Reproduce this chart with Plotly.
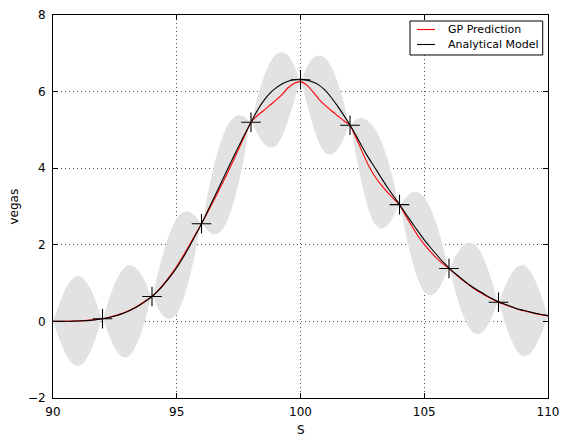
import plotly.graph_objects as go

# Grid of S values (step 0.25 from 90 to 110)
S = [90.00, 90.25, 90.50, 90.75, 91.00, 91.25, 91.50, 91.75,
     92.00, 92.25, 92.50, 92.75, 93.00, 93.25, 93.50, 93.75,
     94.00, 94.25, 94.50, 94.75, 95.00, 95.25, 95.50, 95.75,
     96.00, 96.25, 96.50, 96.75, 97.00, 97.25, 97.50, 97.75,
     98.00, 98.25, 98.50, 98.75, 99.00, 99.25, 99.50, 99.75,
     100.00, 100.25, 100.50, 100.75, 101.00, 101.25, 101.50, 101.75,
     102.00, 102.25, 102.50, 102.75, 103.00, 103.25, 103.50, 103.75,
     104.00, 104.25, 104.50, 104.75, 105.00, 105.25, 105.50, 105.75,
     106.00, 106.25, 106.50, 106.75, 107.00, 107.25, 107.50, 107.75,
     108.00, 108.25, 108.50, 108.75, 109.00, 109.25, 109.50, 109.75,
     110.00]

analytical = [0.000, 0.001, 0.002, 0.005, 0.010, 0.017, 0.028, 0.045,
              0.070, 0.100, 0.140, 0.190, 0.250, 0.330, 0.420, 0.530,
              0.650, 0.800, 0.980, 1.180, 1.400, 1.660, 1.940, 2.240,
              2.550, 2.880, 3.220, 3.560, 3.900, 4.240, 4.570, 4.890,
              5.200, 5.500, 5.750, 5.950, 6.090, 6.200, 6.270, 6.310,
              6.320, 6.300, 6.250, 6.170, 6.030, 5.840, 5.620, 5.380,
              5.130, 4.850, 4.550, 4.270, 4.020, 3.760, 3.510, 3.280,
              3.050, 2.810, 2.580, 2.350, 2.130, 1.930, 1.740, 1.560,
              1.400, 1.250, 1.120, 0.990, 0.880, 0.780, 0.680, 0.590,
              0.510, 0.450, 0.390, 0.330, 0.290, 0.250, 0.210, 0.180,
              0.150]

gp_mean = [0.000, 0.001, 0.003, 0.006, 0.012, 0.020, 0.032, 0.048,
           0.070, 0.102, 0.145, 0.198, 0.262, 0.342, 0.435, 0.545,
           0.650, 0.810, 1.000, 1.210, 1.440, 1.700, 1.980, 2.270,
           2.550, 2.850, 3.160, 3.480, 3.810, 4.150, 4.500, 4.860,
           5.200, 5.370, 5.500, 5.640, 5.770, 5.920, 6.100, 6.220,
           6.260, 6.170, 6.000, 5.800, 5.640, 5.500, 5.370, 5.240,
           5.120, 4.790, 4.420, 4.070, 3.790, 3.570, 3.380, 3.210,
           3.040, 2.760, 2.490, 2.230, 2.010, 1.820, 1.650, 1.510,
           1.380, 1.240, 1.100, 0.980, 0.860, 0.760, 0.665, 0.580,
           0.500, 0.440, 0.380, 0.325, 0.280, 0.240, 0.200, 0.170,
           0.145]

gp_std = [0.00, 0.45, 0.84, 1.09, 1.18, 1.09, 0.84, 0.45,
          0.00, 0.46, 0.85, 1.10, 1.20, 1.10, 0.85, 0.46,
          0.00, 0.48, 0.89, 1.15, 1.25, 1.15, 0.89, 0.48,
          0.00, 0.48, 0.89, 1.15, 1.25, 1.15, 0.89, 0.48,
          0.00, 0.46, 0.85, 1.10, 1.20, 1.10, 0.85, 0.46,
          0.00, 0.47, 0.88, 1.14, 1.24, 1.14, 0.88, 0.47,
          0.00, 0.48, 0.89, 1.15, 1.25, 1.15, 0.89, 0.48,
          0.00, 0.47, 0.88, 1.14, 1.24, 1.14, 0.88, 0.47,
          0.00, 0.45, 0.83, 1.08, 1.17, 1.08, 0.83, 0.45,
          0.00, 0.46, 0.84, 1.10, 1.19, 1.10, 0.84, 0.46,
          0.00]

train_S = [92, 94, 96, 98, 100, 102, 104, 106, 108]
train_vega = [0.07, 0.65, 2.55, 5.20, 6.31, 5.12, 3.05, 1.38, 0.50]

x_ticks = [90, 95, 100, 105, 110]
y_ticks = [-2, 0, 2, 4, 6, 8]
x_title = "S"
y_title = "vegas"
legend_labels = ["GP Prediction", "Analytical Model"]
legend_colors = ["red", "black"]

upper = [m + s for m, s in zip(gp_mean, gp_std)]
lower = [m - s for m, s in zip(gp_mean, gp_std)]

fig = go.Figure()
fig.add_trace(go.Scatter(x=S, y=upper, mode="lines",
                         line=dict(width=0, color="rgba(0,0,0,0)", shape="spline", smoothing=0.6),
                         showlegend=False, hoverinfo="skip"))
fig.add_trace(go.Scatter(x=S, y=lower, mode="lines",
                         line=dict(width=0, color="rgba(0,0,0,0)", shape="spline", smoothing=0.6),
                         fill="tonexty", fillcolor="rgb(226,226,226)",
                         showlegend=False, hoverinfo="skip"))
fig.add_trace(go.Scatter(x=S, y=gp_mean, mode="lines", name=legend_labels[0], showlegend=False,
                         line=dict(color="red", width=1.1, shape="spline", smoothing=0.6)))
fig.add_trace(go.Scatter(x=S, y=analytical, mode="lines", name=legend_labels[1], showlegend=False,
                         line=dict(color="black", width=1.1, shape="spline", smoothing=0.6)))
fig.add_trace(go.Scatter(x=train_S, y=train_vega, mode="markers", showlegend=False,
                         marker=dict(symbol="cross-thin", size=14,
                                     line=dict(color="black", width=1.1))))

axis_common = dict(showline=True, linecolor="black", linewidth=1, mirror="ticks",
                   ticks="inside", ticklen=5, tickcolor="black", automargin=False,
                   showgrid=True, gridcolor="#555555", griddash="1px,3px", gridwidth=1,
                   zeroline=False, tickfont=dict(family="DejaVu Sans", size=12, color="black"))

fig.update_xaxes(range=[90, 110], tickvals=x_ticks, ticklabelstandoff=3, **axis_common)
fig.update_yaxes(range=[-2, 8], tickvals=y_ticks, ticklabelstandoff=4, **axis_common)

# Axis titles
fig.add_annotation(xref="paper", yref="paper", x=0.5, y=-0.0836, text=x_title, showarrow=False,
                   xanchor="center", yanchor="middle",
                   font=dict(family="DejaVu Sans", size=12, color="black"))
fig.add_annotation(xref="paper", yref="paper", x=-0.0788, y=0.5, text=y_title, showarrow=False,
                   textangle=-90, xanchor="center", yanchor="middle",
                   font=dict(family="DejaVu Sans", size=12, color="black"))

# Legend box drawn in the upper-right corner of the plotting area
fig.add_shape(type="rect", xref="paper", yref="paper", x0=0.7212, x1=0.9893, y0=0.8956, y1=0.9843,
              line=dict(color="black", width=1), fillcolor="white", layer="above")
legend_y = [0.9621, 0.9230]
for lab, col, yy in zip(legend_labels, legend_colors, legend_y):
    fig.add_shape(type="line", xref="paper", yref="paper", x0=0.7354, x1=0.7717, y0=yy, y1=yy,
                  line=dict(color=col, width=1.1), layer="above")
    fig.add_annotation(xref="paper", yref="paper", x=0.7939, y=yy, text=lab, showarrow=False,
                       xanchor="left", yanchor="middle",
                       font=dict(family="DejaVu Sans", size=11, color="black"))

fig.update_layout(
    width=568, height=445,
    margin=dict(l=53, r=20, t=15, b=47),
    plot_bgcolor="white", paper_bgcolor="white",
    font=dict(family="DejaVu Sans", color="black"),
    showlegend=False,
)

fig.write_html("out.html")
